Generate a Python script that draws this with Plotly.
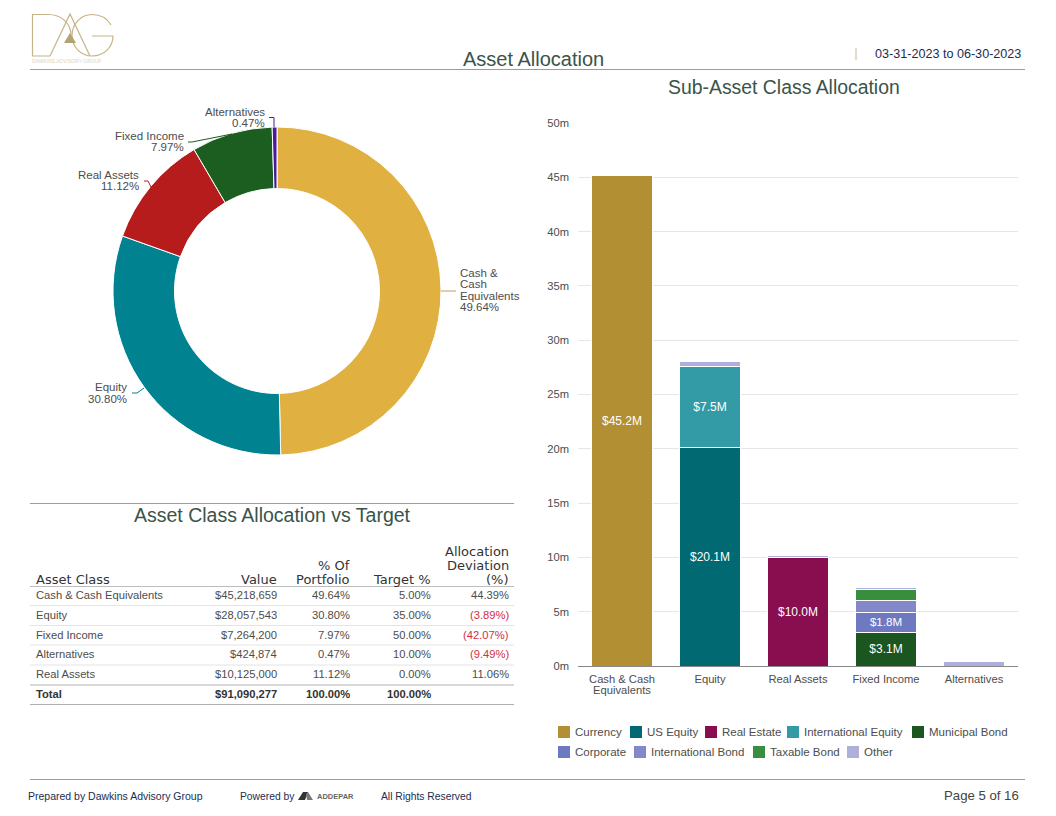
import plotly.graph_objects as go

W, H = 1048, 808
OFF = 8  # the page body margin
FONT = "Liberation Sans"
GREY = "#4d4d4d"
HEADING = "#3a5449"
GOLD = "#a99f70"
NAVY = "#1d2d50"

# donut
asset_classes = ["Cash & Cash Equivalents", "Equity", "Real Assets", "Fixed Income", "Alternatives"]
asset_pct = [49.64, 30.80, 11.12, 7.97, 0.47]
asset_colors = ["#e0b040", "#008290", "#b71c1c", "#1b5e20", "#4a1a9c"]

# stacked bars, $ millions
bar_categories = ["Cash & Cash", "Equity", "Real Assets", "Fixed Income", "Alternatives"]
currency = [45.2, None, None, None, None]
us_equity = [None, 20.1, None, None, None]
real_estate = [None, None, 10.0, None, None]
intl_equity = [None, 7.5, None, None, None]
municipal_bond = [None, None, None, 3.1, None]
corporate = [None, None, None, 1.8, None]
intl_bond = [None, None, None, 1.1, None]
taxable_bond = [None, None, None, 1.0, None]
other = [None, 0.46, 0.13, 0.26, 0.42]

# table
table_class = ["Cash & Cash Equivalents", "Equity", "Fixed Income", "Alternatives", "Real Assets"]
table_value = [45218659, 28057543, 7264200, 424874, 10125000]
table_pct = [49.64, 30.80, 7.97, 0.47, 11.12]
table_target = [5.00, 35.00, 50.00, 10.00, 0.00]
table_dev = [44.39, -3.89, -42.07, -9.49, 11.06]
total_value = 91090277
total_pct = 100.00
total_target = 100.00


def X(px):
    return (px - OFF) / W


def Y(px):
    return 1 - (px - OFF) / H


def path(*pts):
    return "M" + " L".join(f"{X(a)},{Y(b)}" for a, b in pts)


def curve(d):
    # d is a list of commands with pixel coordinates: ("M", x, y), ("C", x1, y1, x2, y2, x, y)
    out = []
    for c in d:
        nums = c[1:]
        pairs = [f"{X(nums[i])},{Y(nums[i + 1])}" for i in range(0, len(nums), 2)]
        out.append(c[0] + " ".join(pairs))
    return " ".join(out)


def money_label(vals):
    return [f"${v:.1f}M" if v is not None and v >= 1.5 else "" for v in vals]


def pct(v):
    return f"{v:.2f}%"


def dev(v):
    return f"({abs(v):.2f}%)" if v < 0 else f"{v:.2f}%"


fig = go.Figure()

fig.add_trace(go.Pie(
    labels=asset_classes, values=asset_pct, sort=False, direction="clockwise", rotation=0,
    hole=0.625, textinfo="none", showlegend=False,
    marker=dict(colors=asset_colors, line=dict(color="white", width=1)),
    domain=dict(x=[X(113), X(441)], y=[Y(455), Y(127)]),
))

series = [
    ("Currency", currency, "#b38f33"),
    ("US Equity", us_equity, "#006972"),
    ("Real Estate", real_estate, "#880e4f"),
    ("International Equity", intl_equity, "#339ba6"),
    ("Municipal Bond", municipal_bond, "#1b5520"),
    ("Corporate", corporate, "#6f79c1"),
    ("International Bond", intl_bond, "#8389c8"),
    ("Taxable Bond", taxable_bond, "#388e3c"),
    ("Other", other, "#adb0dc"),
]
for name, vals, color in series:
    fig.add_trace(go.Bar(
        name=name, x=bar_categories, y=vals, text=money_label(vals),
        textposition="inside", insidetextanchor="middle", textangle=0,
        textfont=dict(color="white", size=12),
        marker=dict(color=color, line=dict(color="white", width=1)),
        width=0.695, showlegend=False,
    ))

shapes = []
annotations = []


def rule(x0, y0, x1, y1, color=GOLD, width=1):
    shapes.append(dict(type="line", xref="paper", yref="paper", x0=X(x0), y0=Y(y0), x1=X(x1), y1=Y(y1),
                       line=dict(color=color, width=width)))


def label(x, y, text, size=11, color=GREY, anchor="left", family=FONT):
    annotations.append(dict(xref="paper", yref="paper", x=X(x), y=Y(y), text=text, showarrow=False,
                            xanchor=anchor, yanchor="middle", align=anchor, borderpad=0, borderwidth=0,
                            font=dict(family=family, size=size, color=color)))


rule(30, 69.5, 1025, 69.5)
rule(30, 503.5, 514, 503.5)
rule(30, 779.5, 1025, 779.5)
rule(856, 48, 856, 60, "#c9b98a")

# table row rules
rule(30, 586.5, 514, 586.5, "#bdbdbd")
for y in [605.5, 625.5, 645, 665]:
    rule(30, y, 514, y, "#e4e4e4")
rule(30, 685, 514, 685, "#b0b0b0")
rule(30, 704.5, 514, 704.5, "#b0b0b0")

# table text
col_x = [36, 277, 350, 431, 509]
header_lines = [
    ["", "", "", "", "Allocation"],
    ["", "", "% Of", "", "Deviation"],
    ["Asset Class", "Value", "Portfolio", "Target %", "(%)"],
]
for ly, line in zip([551, 565, 579], header_lines):
    for i, text in enumerate(line):
        if text:
            label(col_x[i], ly, text, 13, "#333333", "left" if i == 0 else "right", "DejaVu Sans")

row_y = [595, 615, 635, 654, 674]
for ry, cls, val, p, tgt, d in zip(row_y, table_class, table_value, table_pct, table_target, table_dev):
    label(col_x[0], ry, cls, 11.2)
    label(col_x[1], ry, f"${val:,}", 11.2, GREY, "right")
    label(col_x[2], ry, pct(p), 11.2, GREY, "right")
    label(col_x[3], ry, pct(tgt), 11.2, GREY, "right")
    label(col_x[4], ry, dev(d), 11.2, "#d32f3f" if d < 0 else GREY, "right")
label(col_x[0], 694, "<b>Total</b>", 11.2, "#333333")
label(col_x[1], 694, f"<b>${total_value:,}</b>", 11.2, "#333333", "right")
label(col_x[2], 694, f"<b>{pct(total_pct)}</b>", 11.2, "#333333", "right")
label(col_x[3], 694, f"<b>{pct(total_target)}</b>", 11.2, "#333333", "right")

# donut leaders
for pts, color in [
    ([(441, 291), (456, 291)], "#b9a060"),
    ([(132, 393), (137, 393), (144, 388)], asset_colors[1]),
    ([(144, 181), (148, 181), (151, 187)], asset_colors[2]),
    ([(188, 142), (192, 142), (232, 134)], asset_colors[3]),
    ([(269, 117.5), (274, 117.5), (274, 127)], asset_colors[4]),
]:
    shapes.append(dict(type="path", xref="paper", yref="paper", path=path(*pts), line=dict(color=color, width=1)))

# logo
LOGO = "#c6b486"
logo_paths = [
    [("M", 50, 56), ("L", 32.5, 56), ("L", 32.5, 14.5), ("L", 48, 14.5), ("C", 62, 14.5, 71, 24, 71, 35)],
    [("M", 50, 56), ("L", 70, 14), ("L", 90, 56)],
    [("M", 111, 25), ("C", 107, 18, 100, 14.5, 92, 14.5), ("C", 81, 14.5, 72, 24, 72, 35.5),
     ("C", 72, 47, 81, 56, 92, 56), ("C", 104, 56, 113, 47, 113, 36), ("L", 92, 36)],
]
for d in logo_paths:
    shapes.append(dict(type="path", xref="paper", yref="paper", path=curve(d), line=dict(color=LOGO, width=1.2)))
shapes.append(dict(type="path", xref="paper", yref="paper", path=path((70, 33), (64, 43), (76, 43)) + " Z",
                   fillcolor="#b5a273", line=dict(width=0)))

# addepar mark
shapes.append(dict(type="path", xref="paper", yref="paper",
                   path=path((298, 800), (303, 792), (308, 792), (305, 800)) + " Z",
                   fillcolor="#333333", line=dict(width=0)))
shapes.append(dict(type="path", xref="paper", yref="paper",
                   path=path((306, 794), (308, 792), (313, 800), (307, 800)) + " Z",
                   fillcolor="#777777", line=dict(width=0)))

# legend, laid out by hand in two rows
legend_x = [558, 630, 705, 787, 912, 558, 634, 753, 847]
legend_y = [732, 732, 732, 732, 732, 752, 752, 752, 752]
for (name, vals, color), lx, ly in zip(series, legend_x, legend_y):
    shapes.append(dict(type="rect", xref="paper", yref="paper", x0=X(lx), x1=X(lx + 12),
                       y0=Y(ly + 6), y1=Y(ly - 6), fillcolor=color, line=dict(width=0)))
    label(lx + 17, ly, name, 11.5, GREY)

label(533, 59, "Asset Allocation", 20, HEADING, "center")
label(875, 54, "03-31-2023 to 06-30-2023", 12.6, NAVY)
label(784, 87, "Sub-Asset Class Allocation", 19.4, HEADING, "center")
label(272, 515, "Asset Class Allocation vs Target", 19.5, HEADING, "center")
label(32, 61, "DAWKINS ADVISORY GROUP", 5, "#ddd5bd")
label(28, 796, "Prepared by Dawkins Advisory Group", 10.5, NAVY)
label(240, 796, "Powered by", 10.3, NAVY)
label(317, 796, "<b>ADDEPAR</b>", 7.5, "#666666")
label(381, 796, "All Rights Reserved", 10.3, NAVY)
label(1019, 795, "Page 5 of 16", 13.2, "#444444", "right")

# second line of the first category, kept apart for the tight leading
label(622, 690, "Equivalents", 11.2, GREY, "center")

# donut labels, one annotation per line to keep the tight leading
label(265, 112, asset_classes[4], 11.5, GREY, "right")
label(265, 123, pct(asset_pct[4]), 11.5, GREY, "right")
label(184, 136, asset_classes[3], 11.5, GREY, "right")
label(184, 147, pct(asset_pct[3]), 11.5, GREY, "right")
label(139, 175, asset_classes[2], 11.5, GREY, "right")
label(139, 186, pct(asset_pct[2]), 11.5, GREY, "right")
label(127, 387, asset_classes[1], 11.5, GREY, "right")
label(127, 399, pct(asset_pct[1]), 11.5, GREY, "right")
label(460, 273, "Cash &", 11.5, GREY)
label(460, 284, "Cash", 11.5, GREY)
label(460, 296, "Equivalents", 11.5, GREY)
label(460, 307, pct(asset_pct[0]), 11.5, GREY)

fig.update_layout(
    width=W, height=H, margin=dict(l=0, r=0, t=0, b=0), autosize=False,
    paper_bgcolor="white", plot_bgcolor="white", barmode="stack",
    font=dict(family=FONT, size=11, color=GREY),
    shapes=shapes, annotations=annotations, showlegend=False,
    xaxis=dict(domain=[X(578), X(1018)], showline=True, linecolor="#888888", ticks="", automargin=False,
               tickfont=dict(size=11.2, color=GREY), ticklabelstandoff=3, fixedrange=True),
    yaxis=dict(domain=[Y(666), Y(123)], range=[0, 50], dtick=5, ticksuffix="m", gridcolor="#e6e6e6",
               zeroline=False, tickfont=dict(size=11.2, color=GREY), ticks="", ticklabelstandoff=8,
               automargin=False, fixedrange=True),
)

fig.write_html("out.html")
